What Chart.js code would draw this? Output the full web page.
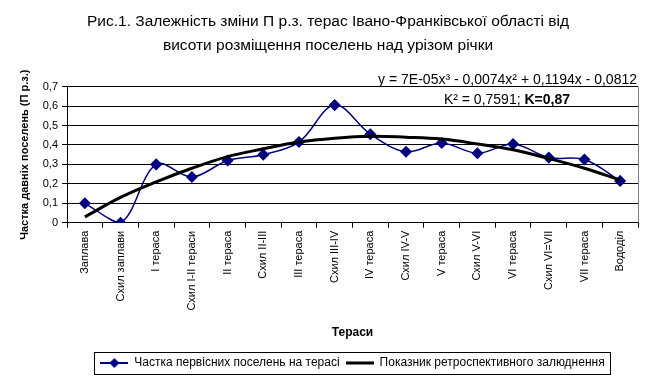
<!DOCTYPE html>
<html>
<head>
<meta charset="utf-8">
<script src="https://cdn.jsdelivr.net/npm/chart.js@4.4.1/dist/chart.umd.min.js"></script>
<style>
  html, body { margin: 0; padding: 0; background: #fff; }
  #wrap { width: 653px; height: 386px; }
</style>
</head>
<body>
<div id="wrap"><canvas id="terasyChart" width="653" height="386"></canvas></div>
<script>
const categories = ['Заплава', 'Схил заплави', 'І тераса', 'Схил І-ІІ тераси', 'ІІ тераса', 'Схил ІІ-ІІІ',
    'ІІІ тераса', 'Схил ІІІ-IV', 'IV тераса', 'Схил IV-V', 'V тераса', 'Схил V-VI', 'VI тераса',
    'Схил VI=VII', 'VII тераса', 'Вододіл'];
const chastka = [0.10, 0.00, 0.30, 0.235, 0.32, 0.35, 0.415, 0.605, 0.455, 0.365, 0.41, 0.357, 0.405, 0.335, 0.325, 0.215];
const pokaznyk = [0.03, 0.13, 0.21, 0.28, 0.34, 0.38, 0.415, 0.435, 0.445, 0.44, 0.43, 0.405, 0.375, 0.33, 0.28, 0.22];
const seriesNames = ['Частка первісних поселень на терасі', 'Показник ретроспективного залюднення'];
const titleLines = ['Рис.1. Залежність зміни П р.з. терас Івано-Франківської області від', 'висоти розміщення поселень над урізом річки'];
const equationText = 'y = 7E-05x³ - 0,0074x² + 0,1194x - 0,0812';
const r2Text = 'K² = 0,7591; ';
const rText = 'K=0,87';

const FONT = "'Liberation Sans', Arial, sans-serif";

function legendIcon(withMarker) {
    const c = document.createElement('canvas');
    c.width = 28; c.height = 12;
    const g = c.getContext('2d');
    g.strokeStyle = withMarker ? '#000080' : '#000';
    g.lineWidth = withMarker ? 2 : 3;
    g.beginPath(); g.moveTo(0, 6); g.lineTo(28, 6); g.stroke();
    if(withMarker) {
        g.fillStyle = '#000080';
        g.beginPath(); g.moveTo(14, 1); g.lineTo(19, 6); g.lineTo(14, 11); g.lineTo(9, 6); g.closePath(); g.fill();
    }
    return c;
}
const icons = [legendIcon(true), legendIcon(false)];

const extras = {
    id: 'extras',
    afterDraw(chart) {
        const ctx = chart.ctx;
        const a = chart.chartArea;
        ctx.save();
        // права межа області побудови (сіра)
        ctx.strokeStyle = '#808080';
        ctx.lineWidth = 1;
        ctx.beginPath(); ctx.moveTo(a.right + 0.5, a.top); ctx.lineTo(a.right + 0.5, a.bottom); ctx.stroke();
        // рівняння тренду
        ctx.fillStyle = '#000';
        ctx.textBaseline = 'alphabetic';
        ctx.textAlign = 'right';
        ctx.font = '14px ' + FONT;
        ctx.fillText(equationText, 637, 84);
        ctx.font = 'bold 14px ' + FONT;
        const wB = ctx.measureText(rText).width;
        ctx.fillText(rText, 570, 104);
        ctx.font = '14px ' + FONT;
        ctx.fillText(r2Text, 570 - wB, 104);
        // рамка легенди
        const boxes = chart.legend.legendHitBoxes;
        if(boxes && boxes.length) {
            let l = Infinity, r = -Infinity, t = Infinity, b = -Infinity;
            boxes.forEach(h => { l = Math.min(l, h.left); r = Math.max(r, h.left + h.width); t = Math.min(t, h.top); b = Math.max(b, h.top + h.height); });
            ctx.strokeStyle = '#000';
            ctx.strokeRect(Math.round(l - 6) + 0.5, Math.round(t - 5) + 0.5, Math.round(r - l + 12), Math.round(b - t + 10));
        }
        ctx.restore();
    }
};

new Chart(document.getElementById('terasyChart'), {
    type: 'line',
    data: {
        labels: categories,
        datasets: [{
            label: seriesNames[0],
            data: chastka,
            borderColor: '#000080',
            backgroundColor: '#000080',
            borderWidth: 1.5,
            tension: 0.35,
            pointStyle: 'rectRot',
            pointRadius: 5,
            pointBackgroundColor: '#000080',
            pointBorderColor: '#000080',
            order: 2
        }, {
            label: seriesNames[1],
            data: pokaznyk,
            borderColor: '#000',
            backgroundColor: '#000',
            borderWidth: 3,
            tension: 0.4,
            pointRadius: 0,
            order: 1
        }]
    },
    options: {
        responsive: false,
        animation: false,
        devicePixelRatio: 1,
        layout: { padding: { left: 18, right: 15, top: 0, bottom: 7 } },
        plugins: {
            title: {
                display: true,
                text: titleLines,
                color: '#000',
                font: { family: FONT, size: 15.5, weight: 'normal', lineHeight: 1.6 },
                padding: { top: 9, bottom: 28 }
            },
            legend: {
                position: 'bottom',
                align: 'center',
                fullSize: false,
                labels: {
                    color: '#000',
                    font: { family: FONT, size: 12 },
                    usePointStyle: true,
                    pointStyleWidth: 28,
                    padding: 6,
                    generateLabels: function(chart) {
                        return chart.data.datasets.map(function(ds, i) {
                            return { text: ds.label, pointStyle: icons[i], datasetIndex: i, fontColor: '#000', lineWidth: 0, strokeStyle: 'transparent', fillStyle: 'transparent' };
                        });
                    }
                }
            },
            tooltip: { enabled: false }
        },
        scales: {
            x: {
                offset: true,
                grid: { offset: true, drawOnChartArea: false, color: '#000', tickLength: 5 },
                border: { color: '#000' },
                ticks: { color: '#000', font: { family: FONT, size: 11 }, minRotation: 90, maxRotation: 90, autoSkip: false, padding: 3 },
                title: { display: true, text: 'Тераси', color: '#000', font: { family: FONT, size: 12, weight: 'bold' }, padding: { top: 12, bottom: 11 } }
            },
            y: {
                min: 0,
                max: 0.7,
                grid: { color: '#000', tickLength: 5 },
                border: { color: '#000' },
                ticks: {
                    stepSize: 0.1,
                    color: '#000',
                    font: { family: FONT, size: 11 },
                    padding: 4,
                    callback: function(value) {
                        return value === 0 ? '0' : value.toFixed(1).replace('.', ',');
                    }
                },
                title: { display: true, text: 'Частка давніх поселень (П р.з.)', color: '#000', font: { family: FONT, size: 11, weight: 'bold' }, padding: { top: 0, bottom: 8 } },
                afterFit: function(scale) { scale.width = 49; }
            }
        }
    },
    plugins: [extras]
});
</script>
</body>
</html>
